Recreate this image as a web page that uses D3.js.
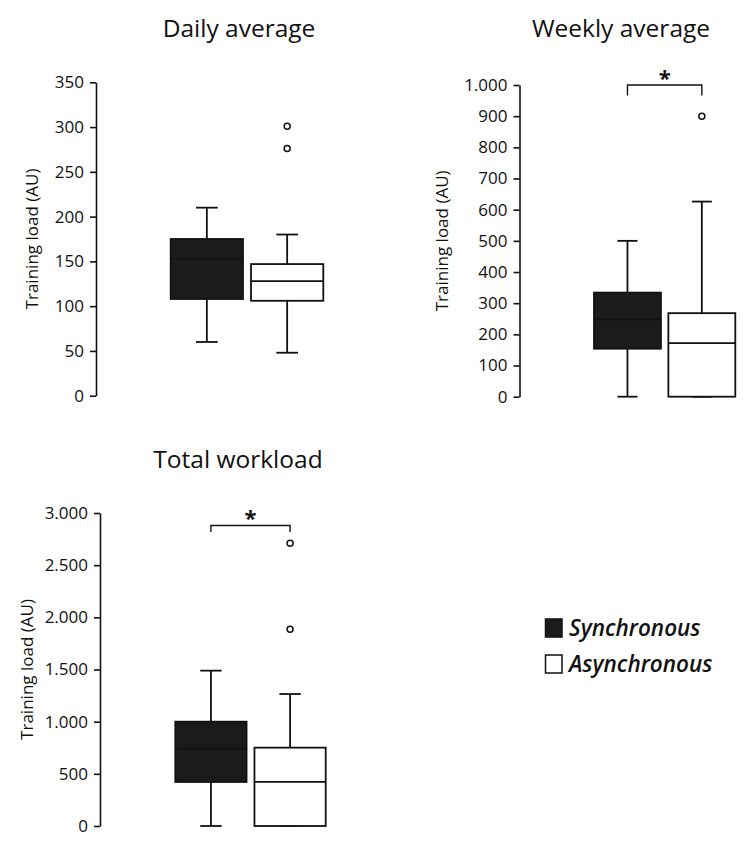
<!DOCTYPE html>
<html>
<head>
<meta charset="utf-8">
<script src="https://cdn.jsdelivr.net/npm/d3@7"></script>
<style>
  body { margin: 0; background: #fff; }
  svg { display: block; }
  text { font-family: "Open Sans", sans-serif; fill: #111; }
</style>
</head>
<body>
<svg id="chart" width="746" height="849"></svg>
<script>
// ---------- data ----------
const categories = ["Synchronous", "Asynchronous"];
const panelTitles = ["Daily average", "Weekly average", "Total workload"];
const yAxisLabel = "Training load (AU)";

// [lower whisker, Q1, median, Q3, upper whisker] per category
const dailyStats   = [[60, 108, 153, 175, 210], [48, 106, 128, 147, 180]];
const dailyOutliers = [[], [276, 301]];
const weeklyStats  = [[0, 154, 248, 334, 500], [0, 0, 172, 268, 626]];
const weeklyOutliers = [[], [900]];
const totalStats   = [[0, 422, 741, 1000, 1489], [0, 0, 422, 751, 1265]];
const totalOutliers = [[], [1885, 2709]];

const dailyTicks  = [0, 50, 100, 150, 200, 250, 300, 350];
const weeklyTicks = [0, 100, 200, 300, 400, 500, 600, 700, 800, 900, 1000];
const totalTicks  = [0, 500, 1000, 1500, 2000, 2500, 3000];

// significance bracket level (value units), null = none
const significanceLevel = [null, 1000, 2880];

// ---------- drawing ----------
const svg = d3.select("#chart");
const locale = d3.formatLocale({decimal: ",", thousands: ".", grouping: [3], currency: ["", ""]});
const fmt = locale.format(",d");
const fills = ["#1b1b1b", "#ffffff"];

const panels = [
  {title: panelTitles[0], stats: dailyStats, outliers: dailyOutliers, ticks: dailyTicks,
   axisX: 96, y0: 395.7, y1: 82.3, bx: [170.7, 323.3], titleX: 239, titleY: 37, labelX: 32,
   sig: significanceLevel[0], drop: 10.5},
  {title: panelTitles[1], stats: weeklyStats, outliers: weeklyOutliers, ticks: weeklyTicks,
   axisX: 519.5, y0: 396.7, y1: 85, bx: [594, 735.3], titleX: 621, titleY: 37, labelX: 442,
   sig: significanceLevel[1], drop: 10.5},
  {title: panelTitles[2], stats: totalStats, outliers: totalOutliers, ticks: totalTicks,
   axisX: 100, y0: 826, y1: 513, bx: [175.3, 325.7], titleX: 238, titleY: 468, labelX: 27,
   sig: significanceLevel[2], drop: 6.5}
];

panels.forEach(p => {
  const g = svg.append("g");
  const y = d3.scaleLinear().domain([0, d3.max(p.ticks)]).range([p.y0, p.y1]);
  const x = d3.scaleBand().domain(categories).range(p.bx).paddingInner(0.1).paddingOuter(0);

  // title
  g.append("text").attr("x", p.titleX).attr("y", p.titleY)
    .attr("text-anchor", "middle").style("font-size", "24.5px").text(p.title);

  // axis
  const ax = g.append("g").attr("transform", `translate(${p.axisX},0)`)
    .call(d3.axisLeft(y).tickValues(p.ticks).tickFormat(fmt).tickSize(6).tickSizeOuter(0).tickPadding(6));
  ax.selectAll("path, line").attr("stroke", "#111").attr("stroke-width", 1.6);
  ax.selectAll("text").style("font-size", "17px").style("font-family", "'Open Sans', sans-serif").attr("fill", "#111");

  // y label
  g.append("text")
    .attr("transform", `translate(${p.labelX},${(p.y0 + p.y1) / 2}) rotate(-90)`)
    .attr("text-anchor", "middle").attr("dy", "0.35em")
    .style("font-size", "17px").text(yAxisLabel);

  // boxes
  categories.forEach((c, i) => {
    const [lo, q1, med, q3, hi] = p.stats[i];
    const bx = x(c), bw = x.bandwidth(), cx = bx + bw / 2, cap = bw * 0.15;
    const bg = g.append("g").attr("stroke", "#111").attr("stroke-width", 1.8);
    // whiskers
    bg.append("line").attr("x1", cx).attr("x2", cx).attr("y1", y(q3)).attr("y2", y(hi));
    bg.append("line").attr("x1", cx).attr("x2", cx).attr("y1", y(q1)).attr("y2", y(lo));
    bg.append("line").attr("x1", cx - cap).attr("x2", cx + cap).attr("y1", y(hi)).attr("y2", y(hi));
    bg.append("line").attr("x1", cx - cap).attr("x2", cx + cap).attr("y1", y(lo)).attr("y2", y(lo));
    // box
    bg.append("rect").attr("x", bx).attr("width", bw)
      .attr("y", y(q3)).attr("height", y(q1) - y(q3)).attr("fill", fills[i]);
    // median
    bg.append("line").attr("x1", bx).attr("x2", bx + bw).attr("y1", y(med)).attr("y2", y(med))
      .attr("stroke", "#111");
    // outliers
    p.outliers[i].forEach(v => {
      bg.append("circle").attr("cx", cx).attr("cy", y(v)).attr("r", 3)
        .attr("fill", "#fff").attr("stroke-width", 1.5);
    });
  });

  // significance bracket
  if (p.sig !== null) {
    const xa = x(categories[0]) + x.bandwidth() / 2;
    const xb = x(categories[1]) + x.bandwidth() / 2;
    const top = y(p.sig);
    g.append("path")
      .attr("d", `M${xa},${top + p.drop}V${top}H${xb}V${top + p.drop}`)
      .attr("fill", "none").attr("stroke", "#111").attr("stroke-width", 1.4);
    g.append("text").attr("x", (xa + xb) / 2).attr("y", top + 0.5)
      .attr("text-anchor", "middle").style("font-size", "22px").style("font-weight", "bold").text("*");
  }
});

// legend
const legend = svg.append("g");
categories.forEach((c, i) => {
  const ly = 619 + i * 36;
  legend.append("rect").attr("x", 545.5).attr("y", ly).attr("width", 16.5).attr("height", 18)
    .attr("fill", fills[i]).attr("stroke", "#111").attr("stroke-width", 1.5);
  legend.append("text").attr("x", 569).attr("y", ly + 17)
    .style("font-size", "22.5px").style("font-style", "italic").style("font-weight", "600").text(c);
});
</script>
</body>
</html>
